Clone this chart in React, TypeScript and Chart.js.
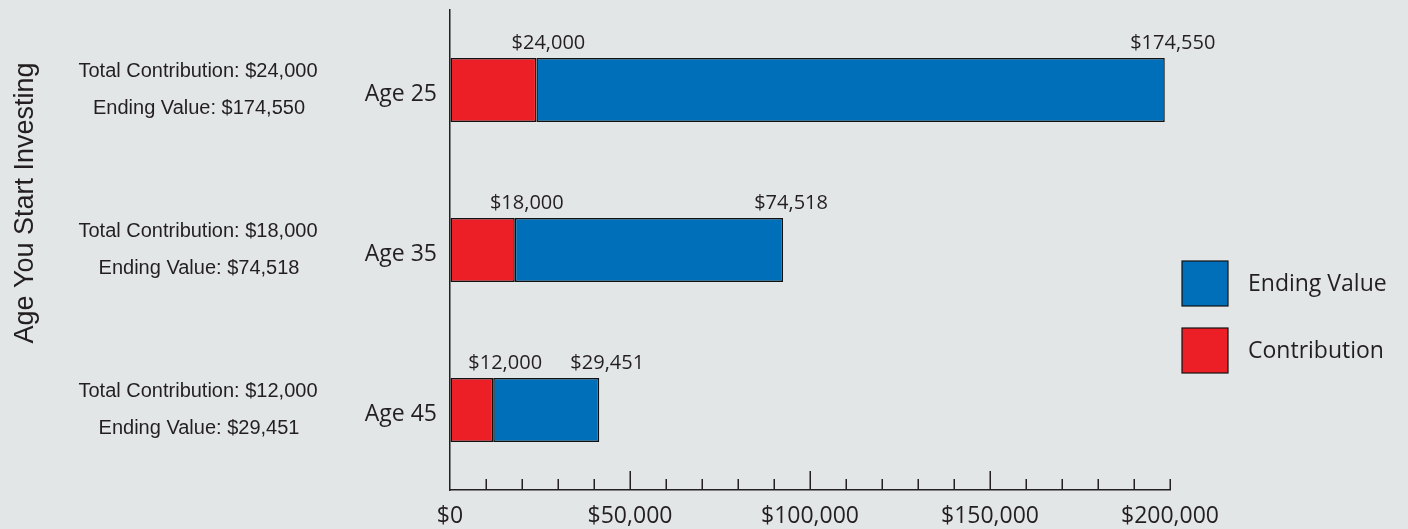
import React, { useEffect, useRef } from "react";
import { Chart, registerables } from "chart.js";

Chart.register(...registerables);

const categories = ["Age 25", "Age 35", "Age 45"];
const contribution = [24000, 18000, 12000];
const endingValue = [174550, 74518, 29451];
const seriesNames = ["Contribution", "Ending Value"];
const axisTitle = "Age You Start Investing";
const xMin = 0;
const xMax = 200000;
const xStep = 10000;
const majorStep = 50000;

const RED = "#ed1f26";
const BLUE = "#006fba";
const INK = "#231f20";
const BG = "#e3e6e7";
const MYRIAD = "'Open Sans', 'Noto Sans', sans-serif";
const HELV = "'Liberation Sans', Arial, sans-serif";

const money = (v: number) => "$" + v.toLocaleString("en-US");

const overlayPlugin = {
  id: "overlay",
  afterDraw(chart: any) {
    const ctx = chart.ctx;
    const xs = chart.scales.x;
    const ys = chart.scales.y;
    const area = chart.chartArea;
    ctx.save();

    // x-axis tick marks pointing up
    ctx.strokeStyle = INK;
    ctx.lineWidth = 1.5;
    xs.ticks.forEach((t: any) => {
      const v = t.value;
      if (v === xMin) return;
      const px = Math.round(xs.getPixelForValue(v)) + 0.25;
      const major = v % majorStep === 0 && v < xMax;
      const len = major ? 19 : 11;
      ctx.beginPath();
      ctx.moveTo(px, area.bottom);
      ctx.lineTo(px, area.bottom - len);
      ctx.stroke();
    });

    // value labels above bars
    const m0 = chart.getDatasetMeta(0);
    const m1 = chart.getDatasetMeta(1);
    ctx.fillStyle = INK;
    ctx.font = `20px ${MYRIAD}`;
    ctx.textAlign = "center";
    ctx.textBaseline = "middle";
    categories.forEach((_, j) => {
      const r = m0.data[j];
      const b = m1.data[j];
      const ly = r.y - r.height / 2 - 15;
      ctx.fillText(money(contribution[j]), r.x + 12, ly);
      ctx.fillText(money(endingValue[j]), b.x + 8, ly);
    });

    // left descriptive texts
    ctx.font = `20px ${HELV}`;
    categories.forEach((c, j) => {
      const cy = ys.getPixelForValue(j);
      ctx.fillText("Total Contribution: " + money(contribution[j]), 198, cy - 19);
      ctx.fillText("Ending Value: " + money(endingValue[j]), 199, cy + 18);
    });

    // rotated axis title
    ctx.save();
    ctx.translate(26, 203);
    ctx.rotate(-Math.PI / 2);
    ctx.font = `27px ${HELV}`;
    ctx.fillText(axisTitle, 0, 0);
    ctx.restore();

    // legend
    const items = [
      { label: seriesNames[1], color: BLUE },
      { label: seriesNames[0], color: RED },
    ];
    const bx = area.right + 12;
    items.forEach((it, i) => {
      const by = area.top + 251 + i * 67;
      ctx.fillStyle = it.color;
      ctx.fillRect(bx, by, 46, 45);
      ctx.strokeStyle = "#111";
      ctx.lineWidth = 1.2;
      ctx.strokeRect(bx, by, 46, 45);
      ctx.fillStyle = INK;
      ctx.font = `23px ${MYRIAD}`;
      ctx.textAlign = "left";
      ctx.fillText(it.label, bx + 66, by + 23);
    });

    ctx.restore();
  },
};

export default function App() {
  const ref = useRef<HTMLCanvasElement | null>(null);

  useEffect(() => {
    if (!ref.current) return;
    const chart = new Chart(ref.current, {
      type: "bar",
      data: {
        labels: categories,
        datasets: [
          {
            label: seriesNames[0],
            data: contribution,
            backgroundColor: RED,
            borderColor: "#111",
            borderWidth: 1.5,
            borderSkipped: false,
          },
          {
            label: seriesNames[1],
            data: endingValue,
            backgroundColor: BLUE,
            borderColor: "#111",
            borderWidth: 1.5,
            borderSkipped: false,
          },
        ],
      },
      options: {
        indexAxis: "y",
        animation: false,
        responsive: true,
        maintainAspectRatio: false,
        layout: { padding: { top: 10, right: 238, bottom: 0, left: 0 } },
        datasets: { bar: { barPercentage: 0.4, categoryPercentage: 1 } },
        plugins: {
          legend: { display: false },
          tooltip: { enabled: false },
          title: { display: false },
        },
        scales: {
          x: {
            stacked: true,
            min: xMin,
            max: xMax,
            afterFit: (s: any) => {
              s.height = 39;
              s.paddingLeft = 0;
              s.paddingRight = 0;
            },
            grid: { display: true, drawOnChartArea: false, drawTicks: false },
            border: { display: true, color: INK, width: 1.5 },
            ticks: {
              stepSize: xStep,
              autoSkip: false,
              maxRotation: 0,
              padding: 13,
              color: INK,
              font: { family: MYRIAD, size: 23 },
              callback: (v: any) => (Number(v) % majorStep === 0 ? money(Number(v)) : ""),
            },
          },
          y: {
            stacked: true,
            afterFit: (s: any) => {
              s.width = 450;
              s.paddingTop = 0;
              s.paddingBottom = 0;
            },
            grid: { display: true, drawOnChartArea: false, drawTicks: false },
            border: { display: true, color: INK, width: 1.5 },
            ticks: {
              padding: 13,
              labelOffset: 4,
              color: INK,
              font: { family: MYRIAD, size: 23 },
            },
          },
        },
      },
      plugins: [overlayPlugin],
    });
    return () => chart.destroy();
  }, []);

  return (
    <div
      style={{
        position: "fixed",
        left: 0,
        top: 0,
        width: 1408,
        height: 529,
        background: BG,
      }}
    >
      <canvas ref={ref} />
    </div>
  );
}
